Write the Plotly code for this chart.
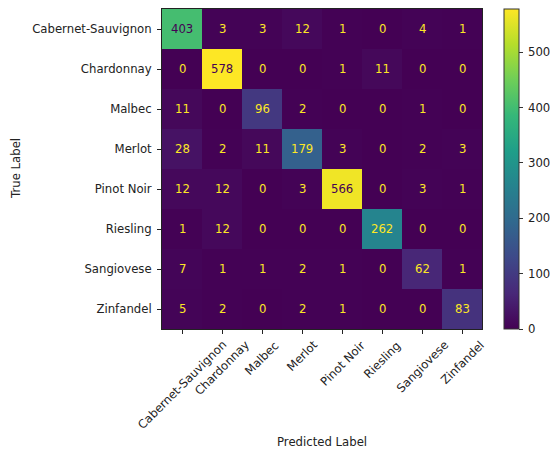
import plotly.graph_objects as go

labels = ["Cabernet-Sauvignon", "Chardonnay", "Malbec", "Merlot",
          "Pinot Noir", "Riesling", "Sangiovese", "Zinfandel"]

# rows: true label, columns: predicted label
counts = [
    [403, 3, 3, 12, 1, 0, 4, 1],
    [0, 578, 0, 0, 1, 11, 0, 0],
    [11, 0, 96, 2, 0, 0, 1, 0],
    [28, 2, 11, 179, 3, 0, 2, 3],
    [12, 12, 0, 3, 566, 0, 3, 1],
    [1, 12, 0, 0, 0, 262, 0, 0],
    [7, 1, 1, 2, 1, 0, 62, 1],
    [5, 2, 0, 2, 1, 0, 0, 83],
]

colorbar_ticks = [0, 100, 200, 300, 400, 500]

FONT = "DejaVu Sans"
FS = 11.7
TXT = "#222222"
W, H = 550, 452
L, R, T, B = 162, 68, 9, 123
pw, ph = W - L - R, H - T - B
CB_X = 504          # left edge of the colour bar, px
CB_W = 15           # colour bar thickness, px
TICK = 4

vmin = min(min(r) for r in counts)
vmax = max(max(r) for r in counts)
thresh = (vmin + vmax) / 2.0
n = len(labels)

fig = go.Figure()
fig.add_trace(go.Heatmap(
    z=counts, x=labels, y=labels,
    colorscale="Viridis", zmin=vmin, zmax=vmax,
    hoverinfo="skip",
    colorbar=dict(
        thickness=CB_W, len=1.0, lenmode="fraction",
        x=(CB_X - L) / pw, xanchor="left", xpad=0,
        y=0.5, yanchor="middle", ypad=0,
        outlinewidth=1, outlinecolor="#333333",
        tickvals=colorbar_ticks, ticks="outside", ticklen=TICK,
        tickcolor="#333333", tickwidth=1, showticklabels=False,
    ),
))

annotations = []

# cell counts
for i, row in enumerate(counts):
    for j, v in enumerate(row):
        annotations.append(dict(
            x=labels[j], y=labels[i], text=str(v), showarrow=False,
            font=dict(family=FONT, size=FS,
                      color="#440154" if v > thresh else "#fde725"),
        ))

# rotated predicted-label tick texts, centred under each tick
for lab in labels:
    annotations.append(dict(
        x=lab, xref="x", y=0, yref="paper", text=lab, showarrow=False,
        textangle=-45, xanchor="center", yanchor="top", yshift=-8,
        borderpad=0, font=dict(family=FONT, size=FS, color=TXT),
    ))

# colour bar tick labels
for v in colorbar_ticks:
    annotations.append(dict(
        x=(CB_X + CB_W + TICK + 4 - L) / pw, xref="paper",
        y=(v - vmin) / (vmax - vmin), yref="paper",
        text=str(v), showarrow=False, xanchor="left", yanchor="middle",
        borderpad=0, font=dict(family=FONT, size=FS, color=TXT),
    ))

# axis titles
annotations.append(dict(
    text="Predicted Label", showarrow=False, xref="paper", yref="paper",
    x=0.5, y=-(442 - (H - B)) / ph, xanchor="center", yanchor="middle",
    font=dict(family=FONT, size=FS, color=TXT)))
annotations.append(dict(
    text="True Label", showarrow=False, xref="paper", yref="paper",
    x=-(L - 16) / pw, y=0.5, xanchor="center", yanchor="middle", textangle=-90,
    font=dict(family=FONT, size=FS, color=TXT)))

fig.update_layout(
    width=W, height=H,
    margin=dict(l=L, r=R, t=T, b=B, autoexpand=False),
    paper_bgcolor="white", plot_bgcolor="white",
    font=dict(family=FONT, size=FS, color=TXT),
    annotations=annotations,
    xaxis=dict(
        range=[-0.5, n - 0.5], autorange=False,
        ticks="outside", ticklen=TICK, tickcolor=TXT, showticklabels=False,
        showline=True, linecolor=TXT, linewidth=1, mirror=True,
        showgrid=False, zeroline=False, automargin=False,
    ),
    yaxis=dict(
        range=[n - 0.5, -0.5], autorange=False,
        ticks="outside", ticklen=TICK, tickcolor=TXT,
        showline=True, linecolor=TXT, linewidth=1, mirror=True,
        showgrid=False, zeroline=False, automargin=False,
        ticklabelstandoff=3,
        tickfont=dict(family=FONT, size=FS, color=TXT),
    ),
)

fig.write_html("out.html")
